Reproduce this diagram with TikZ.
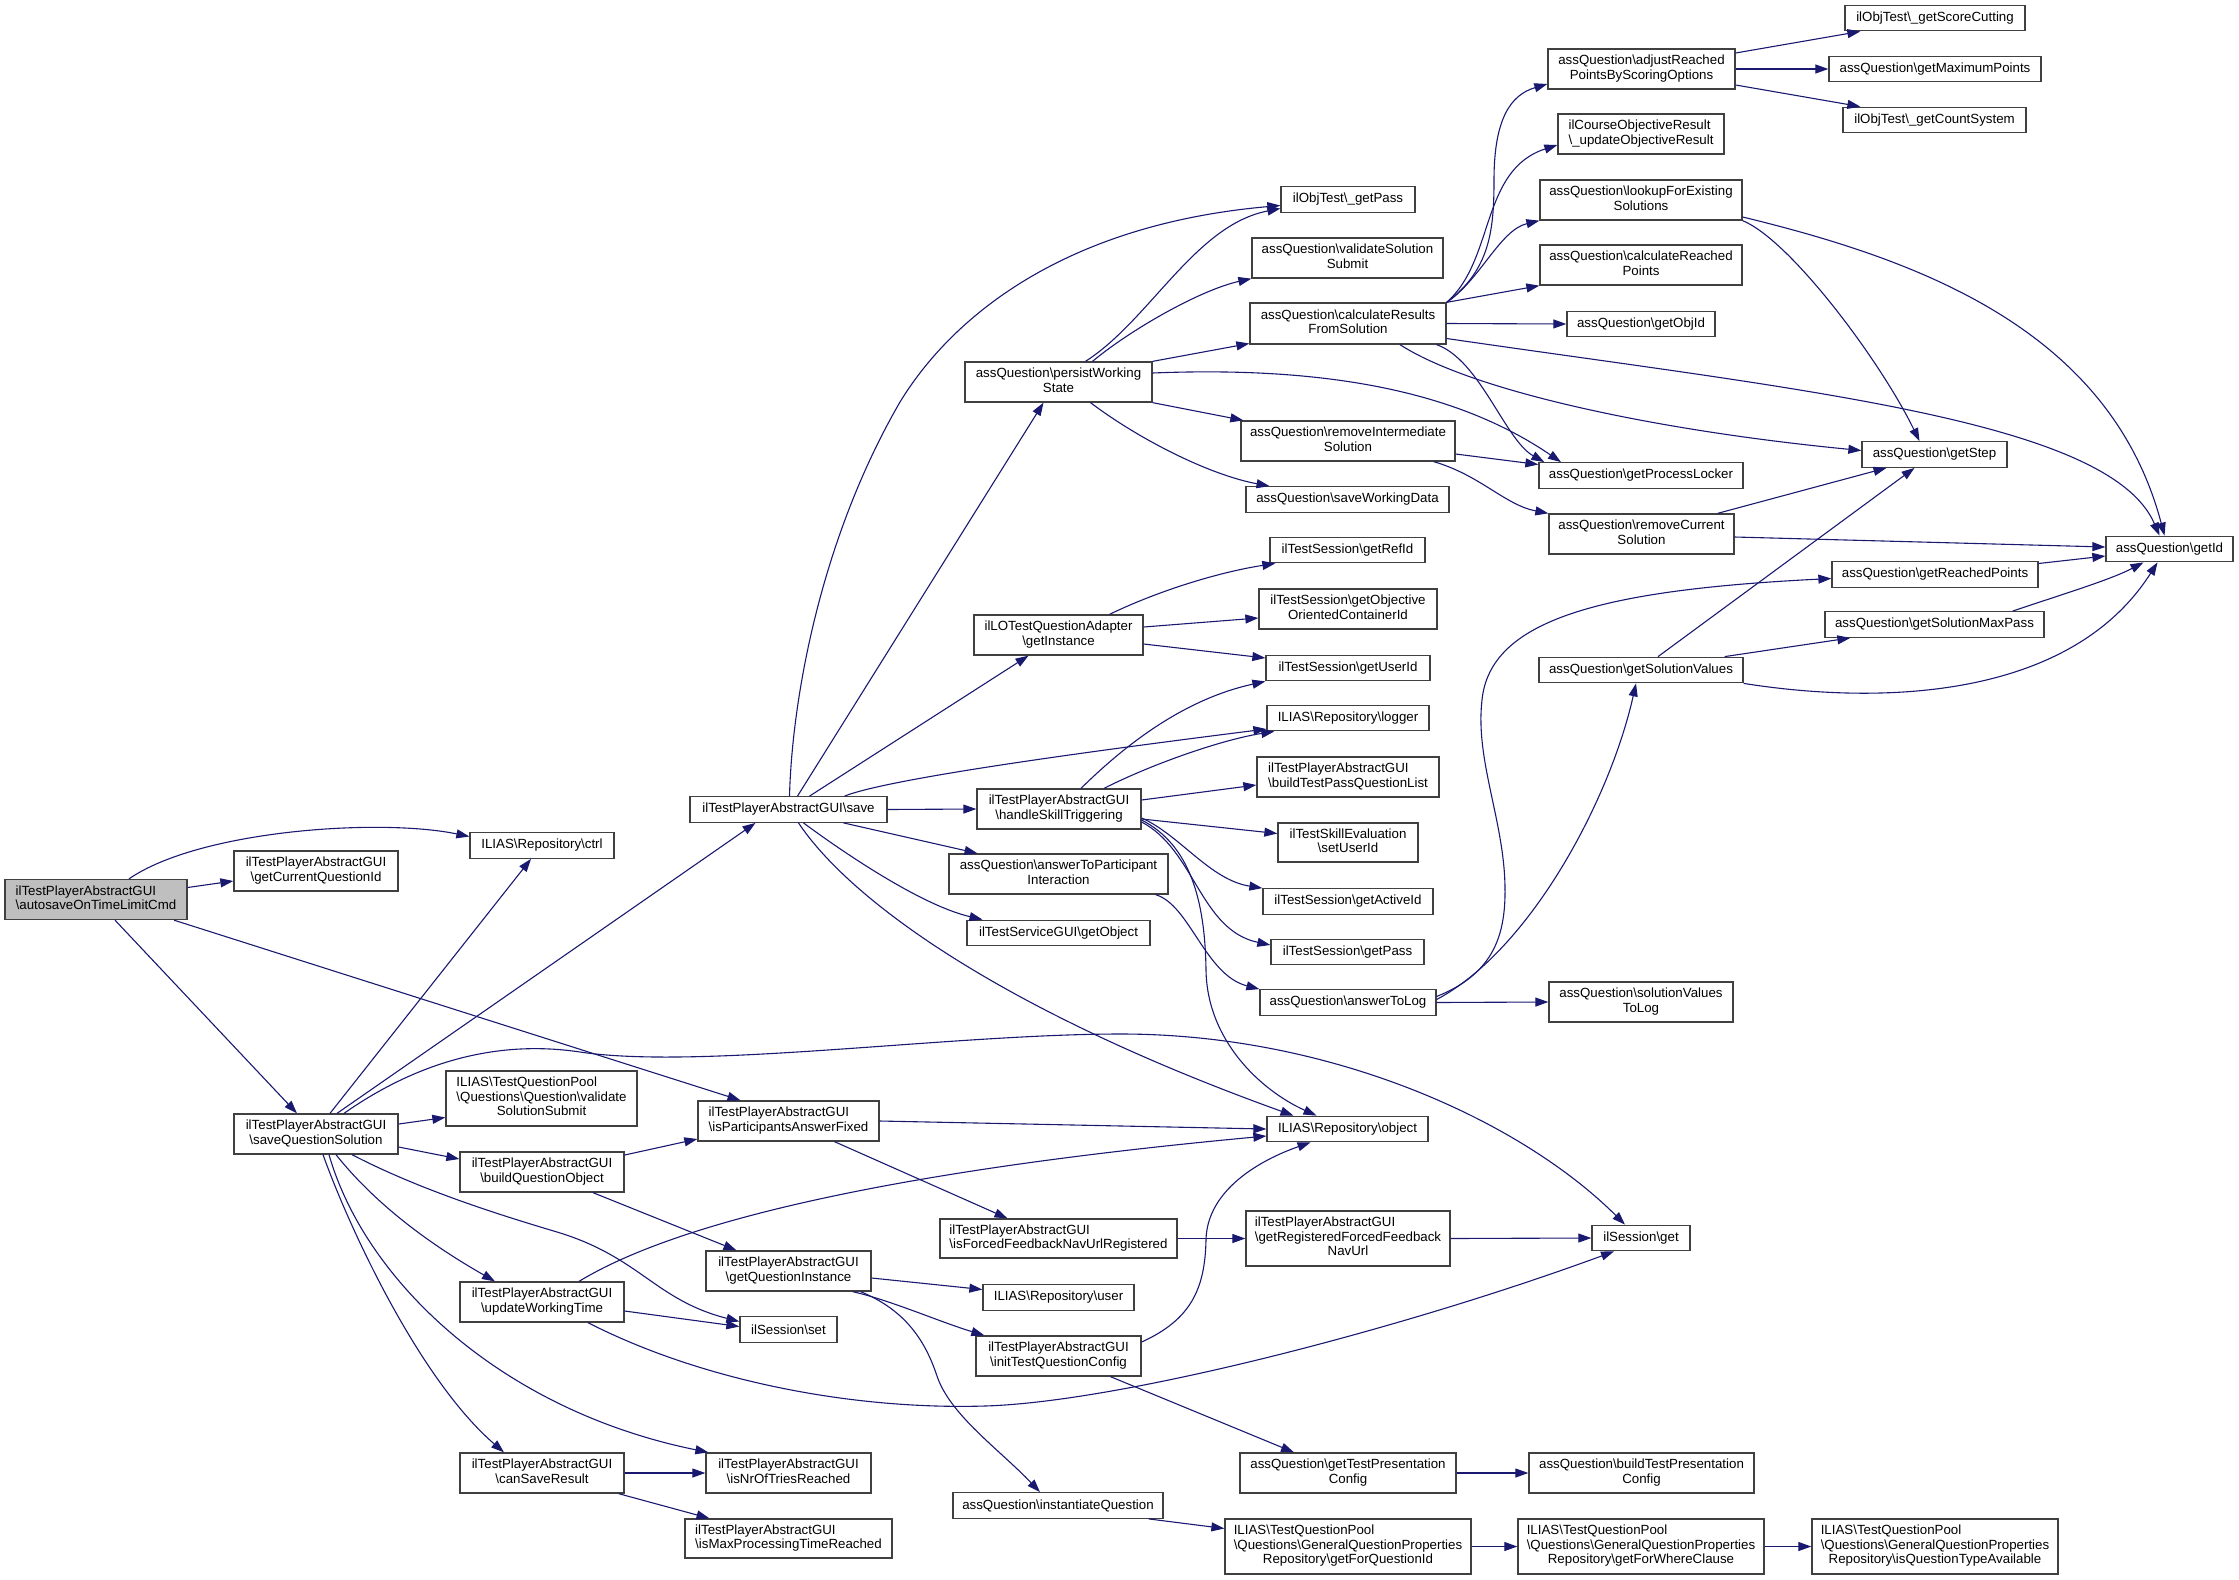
\documentclass[tikz,border=0pt]{standalone}
\usepackage{fontspec}
\usepackage{tikz}
\usetikzlibrary{arrows.meta}
\newfontfamily\doxfont{Liberation Sans}
\definecolor{dxedge}{HTML}{191970}
\definecolor{dxline}{HTML}{404040}
\definecolor{dxroot}{HTML}{BFBFBF}
\newcommand{\bsl}{\textbackslash}
\newcommand{\lns}[2]{\begin{tabular}{@{}l@{}}#1\\\multicolumn{1}{@{}c@{}}{#2}\end{tabular}}
\tikzset{
  fn/.style={draw=dxline, fill=white, line width=1.3pt, inner sep=1pt,
    font=\doxfont\fontsize{13.3}{14.5}\selectfont},
  fn1/.style={fn, minimum height=25.5pt},
  fn2/.style={fn, minimum height=40pt},
  fn3/.style={fn, minimum height=55pt},
  caller/.style={fill=dxroot},
  call/.style={draw=dxedge, line width=1.1pt, -{Triangle[length=13pt,width=9pt]}},
}
\begin{document}
\begin{tikzpicture}[x=1pt,y=-1pt]
\useasboundingbox (0,0) rectangle (2239,1580);

% Nodes: column 1 and 2
\node[fn2, caller, minimum width=182pt] (auto) at (96,899.5) {\lns{ilTestPlayerAbstractGUI}{\bsl autosaveOnTimeLimitCmd}};
\node[fn2, minimum width=164pt] (curq) at (316,871) {\lns{ilTestPlayerAbstractGUI}{\bsl getCurrentQuestionId}};
\node[fn2, minimum width=164pt] (sqs) at (316,1134) {\lns{ilTestPlayerAbstractGUI}{\bsl saveQuestionSolution}};

% Nodes: column 3
\node[fn1, minimum width=144pt] (ctrl) at (542,845.5) {ILIAS\bsl Repository\bsl ctrl};
\node[fn3, minimum width=191pt] (vss) at (541.5,1098.5) {\lns{ILIAS\bsl TestQuestionPool\\\bsl Questions\bsl Question\bsl validate}{SolutionSubmit}};
\node[fn2, minimum width=164pt] (bqo) at (542,1172) {\lns{ilTestPlayerAbstractGUI}{\bsl buildQuestionObject}};
\node[fn2, minimum width=164pt] (uwt) at (542,1302) {\lns{ilTestPlayerAbstractGUI}{\bsl updateWorkingTime}};
\node[fn2, minimum width=164pt] (csr) at (542,1473) {\lns{ilTestPlayerAbstractGUI}{\bsl canSaveResult}};

% Nodes: column 4
\node[fn1, minimum width=197pt] (save) at (788.5,809.5) {ilTestPlayerAbstractGUI\bsl save};
\node[fn2, minimum width=181pt] (ipaf) at (788.5,1121) {\lns{ilTestPlayerAbstractGUI}{\bsl isParticipantsAnswerFixed}};
\node[fn2, minimum width=165pt] (gqi) at (788.5,1271) {\lns{ilTestPlayerAbstractGUI}{\bsl getQuestionInstance}};
\node[fn1, minimum width=97pt] (sset) at (788.5,1329.5) {ilSession\bsl set};
\node[fn2, minimum width=165pt] (nrt) at (788.5,1473) {\lns{ilTestPlayerAbstractGUI}{\bsl isNrOfTriesReached}};
\node[fn2, minimum width=207pt, minimum height=39pt] (mpt) at (788.5,1538.5) {\lns{ilTestPlayerAbstractGUI}{\bsl isMaxProcessingTimeReached}};

% Nodes: column 5
\node[fn2, minimum width=187pt] (pws) at (1058.5,382) {\lns{assQuestion\bsl persistWorking}{State}};
\node[fn2, minimum width=169pt] (loq) at (1058.5,635) {\lns{ilLOTestQuestionAdapter}{\bsl getInstance}};
\node[fn2, minimum width=164pt] (hst) at (1059,809) {\lns{ilTestPlayerAbstractGUI}{\bsl handleSkillTriggering}};
\node[fn2, minimum width=219pt] (atpi) at (1058.5,874) {\lns{assQuestion\bsl answerToParticipant}{Interaction}};
\node[fn1, minimum width=183pt] (tsgo) at (1058.5,933) {ilTestServiceGUI\bsl getObject};
\node[fn2, minimum width=237pt, minimum height=39pt] (ffr) at (1058.5,1238.5) {\lns{ilTestPlayerAbstractGUI}{\bsl isForcedFeedbackNavUrlRegistered}};
\node[fn1, minimum width=151pt] (user) at (1058.5,1297.5) {ILIAS\bsl Repository\bsl user};
\node[fn2, minimum width=165pt] (itqc) at (1058.5,1356) {\lns{ilTestPlayerAbstractGUI}{\bsl initTestQuestionConfig}};
\node[fn1, minimum width=210pt] (inst) at (1058,1505.5) {assQuestion\bsl instantiateQuestion};

% Nodes: column 6
\node[fn1, minimum width=134pt] (opass) at (1348,199.5) {ilObjTest\bsl\_getPass};
\node[fn2, minimum width=191pt] (avss) at (1347.5,258) {\lns{assQuestion\bsl validateSolution}{Submit}};
\node[fn2, minimum width=196pt, minimum height=41pt] (crfs) at (1348,323.5) {\lns{assQuestion\bsl calculateResults}{FromSolution}};
\node[fn2, minimum width=214pt] (ris) at (1348,441) {\lns{assQuestion\bsl removeIntermediate}{Solution}};
\node[fn1, minimum width=203pt] (swd) at (1347.5,499.5) {assQuestion\bsl saveWorkingData};
\node[fn1, minimum width=155pt] (refid) at (1347.5,550) {ilTestSession\bsl getRefId};
\node[fn2, minimum width=178pt] (occid) at (1348,609) {\lns{ilTestSession\bsl getObjective}{OrientedContainerId}};
\node[fn1, minimum width=164pt] (userid) at (1348,668) {ilTestSession\bsl getUserId};
\node[fn1, minimum width=162pt] (logger) at (1348,718) {ILIAS\bsl Repository\bsl logger};
\node[fn2, minimum width=182pt] (btpql) at (1348,777) {\lns{ilTestPlayerAbstractGUI}{\bsl buildTestPassQuestionList}};
\node[fn2, minimum width=140pt, minimum height=39pt] (sue) at (1348,842.5) {\lns{ilTestSkillEvaluation}{\bsl setUserId}};
\node[fn1, minimum width=170pt] (actid) at (1348,901.5) {ilTestSession\bsl getActiveId};
\node[fn1, minimum width=153pt] (spass) at (1347.5,952) {ilTestSession\bsl getPass};
\node[fn1, minimum width=176pt] (atl) at (1348,1002.5) {assQuestion\bsl answerToLog};
\node[fn1, minimum width=161pt] (obj) at (1347.5,1129) {ILIAS\bsl Repository\bsl object};
\node[fn3, minimum width=204pt] (grf) at (1348,1238.5) {\lns{ilTestPlayerAbstractGUI\\\bsl getRegisteredForcedFeedback}{NavUrl}};
\node[fn2, minimum width=216pt] (gtpc) at (1348,1473) {\lns{assQuestion\bsl getTestPresentation}{Config}};
\node[fn3, minimum width=246pt] (gfq) at (1348,1546.5) {\lns{ILIAS\bsl TestQuestionPool\\\bsl Questions\bsl GeneralQuestionProperties}{Repository\bsl getForQuestionId}};

% Nodes: column 7
\node[fn2, minimum width=187pt] (arp) at (1641.5,69) {\lns{assQuestion\bsl adjustReached}{PointsByScoringOptions}};
\node[fn2, minimum width=166pt] (cor) at (1641,134) {\lns{ilCourseObjectiveResult}{\bsl\_updateObjectiveResult}};
\node[fn2, minimum width=202pt] (lfe) at (1641,200) {\lns{assQuestion\bsl lookupForExisting}{Solutions}};
\node[fn2, minimum width=202pt] (crp) at (1641,265) {\lns{assQuestion\bsl calculateReached}{Points}};
\node[fn1, minimum width=148pt] (objid) at (1641,324) {assQuestion\bsl getObjId};
\node[fn1, minimum width=204pt] (plock) at (1641,475.5) {assQuestion\bsl getProcessLocker};
\node[fn2, minimum width=185pt] (rcs) at (1641.5,534) {\lns{assQuestion\bsl removeCurrent}{Solution}};
\node[fn1, minimum width=204pt] (gsv) at (1641,670) {assQuestion\bsl getSolutionValues};
\node[fn2, minimum width=184pt] (svtl) at (1641,1002) {\lns{assQuestion\bsl solutionValues}{ToLog}};
\node[fn1, minimum width=98pt] (sget) at (1641,1238) {ilSession\bsl get};
\node[fn2, minimum width=225pt] (btpc) at (1641.5,1473) {\lns{assQuestion\bsl buildTestPresentation}{Config}};
\node[fn3, minimum width=246pt] (gfw) at (1641,1546.5) {\lns{ILIAS\bsl TestQuestionPool\\\bsl Questions\bsl GeneralQuestionProperties}{Repository\bsl getForWhereClause}};

% Nodes: column 8 and 9
\node[fn1, minimum width=180pt] (scut) at (1935,18) {ilObjTest\bsl\_getScoreCutting};
\node[fn1, minimum width=212pt] (maxp) at (1935,69) {assQuestion\bsl getMaximumPoints};
\node[fn1, minimum width=183pt] (csys) at (1934.5,120) {ilObjTest\bsl\_getCountSystem};
\node[fn1, minimum width=145pt] (gstep) at (1934.5,454.5) {assQuestion\bsl getStep};
\node[fn1, minimum width=206pt] (grp) at (1935,574.5) {assQuestion\bsl getReachedPoints};
\node[fn1, minimum width=219pt] (smp) at (1934.5,624.5) {assQuestion\bsl getSolutionMaxPass};
\node[fn3, minimum width=246pt] (iqta) at (1935,1546.5) {\lns{ILIAS\bsl TestQuestionPool\\\bsl Questions\bsl GeneralQuestionProperties}{Repository\bsl isQuestionTypeAvailable}};
\node[fn1, minimum width=127pt] (gid) at (2169.5,549) {assQuestion\bsl getId};

% Calls from autosaveOnTimeLimitCmd
\draw[call] ([xshift=33]auto.north) .. controls (200,830) and (380,818) .. ([yshift=9]ctrl.west);
\draw[call] ([yshift=12]auto.east) -- ([yshift=-10]curq.west);
\draw[call] ([xshift=19]auto.south) -- ([xshift=-19]sqs.north);
\draw[call] ([xshift=78]auto.south) -- ([xshift=-48]ipaf.north);

% Calls from saveQuestionSolution
\draw[call] ([xshift=14]sqs.north) -- ([xshift=-11]ctrl.south);
\draw[call] ([xshift=21]sqs.north) -- ([xshift=-33]save.south);
\draw[call] ([xshift=28]sqs.north) .. controls (420,1060) and (500,1040) .. (580,1052)
  .. controls (700,1070) and (950,1034) .. (1121,1034)
  .. controls (1330,1034) and (1520,1120) .. ([xshift=-16]sget.north);
\draw[call] ([yshift=10]sqs.east) -- ([yshift=-19]vss.west);
\draw[call] ([yshift=-13]sqs.east) -- ([yshift=13]bqo.west);
\draw[call] ([xshift=36]sqs.south) .. controls (420,1190) and (500,1215) .. (557,1232)
  .. controls (640,1257) and (655,1300) .. ([yshift=8]sset.west);
\draw[call] ([xshift=20]sqs.south) .. controls (380,1210) and (440,1250) .. ([xshift=-47]uwt.north);
\draw[call] ([xshift=13]sqs.south) .. controls (365,1280) and (500,1410) .. ([xshift=3]nrt.north west);
\draw[call] ([xshift=7]sqs.south) .. controls (350,1230) and (420,1380) .. ([xshift=-38]csr.north);

% Calls from updateWorkingTime, buildQuestionObject, canSaveResult
\draw[call] ([xshift=37]uwt.north) .. controls (680,1220) and (900,1170) .. ([yshift=-7]obj.west);
\draw[call] ([yshift=-9]uwt.east) -- ([yshift=3]sset.west);
\draw[call] ([xshift=46]uwt.south) .. controls (700,1380) and (850,1410) .. (985,1406)
  .. controls (1120,1402) and (1400,1330) .. ([xshift=-27]sget.south);
\draw[call] ([yshift=17]bqo.east) -- ([yshift=-18]ipaf.west);
\draw[call] ([xshift=51]bqo.south) -- ([xshift=-52]gqi.north);
\draw[call] (csr.east) -- (nrt.west);
\draw[call] ([xshift=-6]csr.south east) -- ([xshift=-79]mpt.north);

% Calls from isParticipantsAnswerFixed and getQuestionInstance
\draw[call] (ipaf.east) -- (obj.west);
\draw[call] ([xshift=46]ipaf.south) -- ([xshift=-51]ffr.north);
\draw[call] (ffr.east) -- (grf.west);
\draw[call] (grf.east) -- (sget.west);
\draw[call] ([yshift=-7]gqi.east) -- ([yshift=8]user.west);
\draw[call] ([xshift=-19]gqi.south east) .. controls (890,1300) and (940,1322) .. ([xshift=9]itqc.north west);
\draw[call] ([xshift=-11]gqi.south east) .. controls (905,1310) and (925,1340) .. (937,1376)
  .. controls (950,1415) and (1000,1450) .. ([xshift=-18]inst.north);
\draw[call] ([yshift=14]itqc.east) .. controls (1190,1320) and (1205,1290) .. (1206,1240)
  .. controls (1207,1190) and (1260,1160) .. ([xshift=-37]obj.south);
\draw[call] ([xshift=52]itqc.south) -- ([xshift=-54]gtpc.north);
\draw[call] (gtpc.east) -- (btpc.west);
\draw[call] ([xshift=-15]inst.south east) -- ([yshift=18]gfq.west);
\draw[call] (gfq.east) -- (gfw.west);
\draw[call] (gfw.east) -- (iqta.west);

% Calls from save
\draw[call] ([xshift=1]save.north) .. controls (792,700) and (820,540) .. (900,402)
  .. controls (950,320) and (1060,225) .. ([yshift=-6]opass.west);
\draw[call] ([xshift=9]save.north) -- ([xshift=-15]pws.south);
\draw[call] ([xshift=21]save.north) -- ([xshift=-30]loq.south);
\draw[call] ([xshift=56]save.north) .. controls (890,778) and (1100,750) .. ([yshift=-11]logger.west);
\draw[call] (save.east) -- (hst.west);
\draw[call] ([xshift=55]save.south) -- ([xshift=-81]atpi.north);
\draw[call] ([xshift=15]save.south) .. controls (840,850) and (920,905) .. ([xshift=-76]tsgo.north);
\draw[call] ([xshift=10]save.south) .. controls (850,900) and (1000,1010) .. ([xshift=-54]obj.north);

% Calls from persistWorkingState
\draw[call] ([xshift=27]pws.north) .. controls (1150,320) and (1195,225) .. ([yshift=-9]opass.west);
\draw[call] ([xshift=34]pws.north) .. controls (1130,330) and (1200,290) .. (avss.south west);
\draw[call] (pws.north east) -- ([yshift=-20]crfs.west);
\draw[call] ([yshift=9]pws.east) .. controls (1350,365) and (1470,400) .. ([xshift=-80]plock.north);
\draw[call] (pws.south east) -- ([xshift=3]ris.north west);
\draw[call] ([xshift=32]pws.south) .. controls (1140,440) and (1210,475) .. ([xshift=-78]swd.north);

% Calls from calculateResultsFromSolution
\draw[call] (crfs.north east) .. controls (1490,270) and (1494,230) .. (1494,180)
  .. controls (1494,120) and (1510,95) .. ([yshift=-15]arp.west);
\draw[call] (crfs.north east) .. controls (1495,260) and (1480,170) .. ([yshift=-11]cor.west);
\draw[call] (crfs.north east) .. controls (1480,280) and (1500,230) .. (lfe.south west);
\draw[call] (crfs.north east) -- (crp.south west);
\draw[call] (crfs.east) -- (objid.west);
\draw[call] ([yshift=-15]crfs.east) .. controls (1800,390) and (2110,420) .. ([xshift=-10]gid.north);
\draw[call] ([xshift=52]crfs.south) .. controls (1470,390) and (1650,430) .. ([yshift=4]gstep.west);
\draw[call] ([xshift=-10]crfs.south east) .. controls (1480,360) and (1505,440) .. ([xshift=6]plock.north west);

% Calls from removeIntermediateSolution and adjustReachedPointsByScoringOptions
\draw[call] ([yshift=-13]ris.east) -- ([yshift=11]plock.west);
\draw[call] ([xshift=-22]ris.south east) .. controls (1480,475) and (1505,505) .. (rcs.north west);
\draw[call] ([yshift=16]arp.east) -- ([xshift=16]scut.south west);
\draw[call] (arp.east) -- (maxp.west);
\draw[call] ([yshift=-16]arp.east) -- ([xshift=18]csys.north west);

% Calls into getStep and getId
\draw[call] (lfe.south east) .. controls (1790,240) and (1880,360) .. ([xshift=-15]gstep.north);
\draw[call] ([yshift=-17]lfe.east) .. controls (1920,260) and (2110,330) .. ([xshift=-5]gid.north);
\draw[call] ([xshift=-17]rcs.north east) -- ([xshift=-48]gstep.south);
\draw[call] ([yshift=-3]rcs.east) -- ([yshift=2]gid.west);
\draw[call] ([yshift=11]grp.east) -- ([yshift=-7]gid.west);
\draw[call] ([xshift=-32]smp.north east) .. controls (2060,595) and (2110,580) .. ([xshift=-26]gid.south);
\draw[call] ([xshift=17]gsv.north) -- ([xshift=-20]gstep.south);
\draw[call] ([xshift=-19]gsv.north east) -- ([xshift=26]smp.south west);
\draw[call] (gsv.south east) .. controls (1880,705) and (2070,700) .. ([xshift=-12]gid.south);

% Calls from getInstance and handleSkillTriggering
\draw[call] ([xshift=51]loq.north) .. controls (1160,590) and (1220,572) .. ([xshift=6]refid.south west);
\draw[call] ([yshift=8]loq.east) -- ([yshift=-9]occid.west);
\draw[call] ([yshift=-9]loq.east) -- ([yshift=10]userid.west);
\draw[call] ([xshift=22]hst.north) .. controls (1120,750) and (1180,700) .. (userid.south west);
\draw[call] ([xshift=45]hst.north) .. controls (1150,765) and (1220,740) .. ([xshift=8]logger.south west);
\draw[call] ([yshift=9]hst.east) -- ([yshift=-8]btpql.west);
\draw[call] ([yshift=-10]hst.east) -- ([yshift=9]sue.west);
\draw[call] ([yshift=-9]hst.east) .. controls (1180,835) and (1210,880) .. (actid.north west);
\draw[call] ([yshift=-13]hst.east) .. controls (1195,850) and (1200,930) .. ([yshift=7]spass.west);
\draw[call] ([yshift=-11]hst.east) .. controls (1190,845) and (1205,900) .. (1206,970)
  .. controls (1207,1040) and (1260,1090) .. ([xshift=-31]obj.north);

% Calls from answerToParticipantInteraction and answerToLog
\draw[call] ([xshift=-13]atpi.south east) .. controls (1190,905) and (1205,975) .. (atl.north west);
\draw[call] ([yshift=6]atl.east) .. controls (1490,975) and (1506,940) .. (1505,887)
  .. controls (1504,820) and (1475,760) .. (1482,700)
  .. controls (1490,620) and (1600,590) .. ([yshift=-4]grp.west);
\draw[call] ([yshift=3]atl.east) .. controls (1530,950) and (1610,800) .. ([xshift=-5]gsv.south);
\draw[call] (atl.east) -- (svtl.west);

\end{tikzpicture}
\end{document}
